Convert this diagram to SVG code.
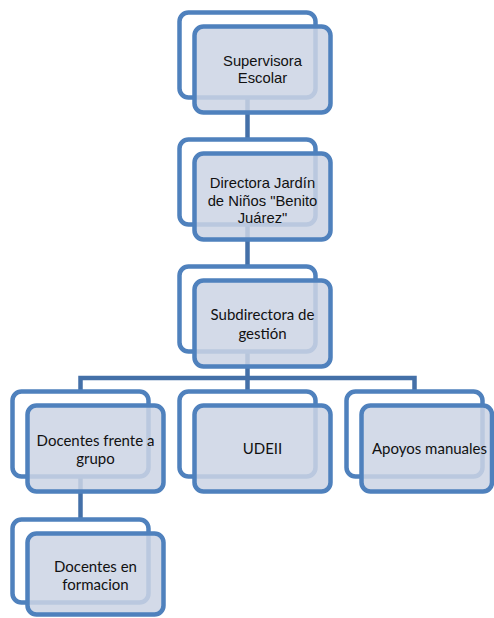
<svg xmlns="http://www.w3.org/2000/svg" width="494" height="618" viewBox="0 0 494 618">
<style>
.back{fill:none;stroke:#4F81BD;stroke-width:4.5}
.front{fill:rgb(204,212,228);fill-opacity:0.86;stroke:#4F81BD;stroke-width:4.5}
.conn{fill:none;stroke:#4470A8;stroke-width:4.5}
.ta{font-family:"Liberation Sans",Arial,sans-serif;font-size:14.8px;fill:#111;text-anchor:middle}
.tc{font-family:Lato,"Open Sans",sans-serif;font-size:15px;fill:#111;text-anchor:middle}
</style>
<rect width="494" height="618" fill="#fff"/>
<g id="connectors">
<path class="conn" d="M247.5 97.5V139.5"/>
<path class="conn" d="M247.5 224.5V266.5"/>
<path class="conn" d="M247.5 351.5V391.5M80.5 391.5V378H414.5V391.5"/>
<path class="conn" d="M80.5 476.5V519.5"/>
</g>
<g id="n1">
<rect class="back" x="179.5" y="12.5" width="136" height="85" rx="9"/>
<rect class="front" x="194.5" y="26.5" width="136" height="86" rx="9"/>
<text class="ta" x="262.5"><tspan x="262.5" y="66.3">Supervisora</tspan><tspan x="262.5" y="83.3">Escolar</tspan></text>
</g>
<g id="n2">
<rect class="back" x="179.5" y="139.5" width="136" height="85" rx="9"/>
<rect class="front" x="194.5" y="153.5" width="136" height="86" rx="9"/>
<text class="ta"><tspan x="262.5" y="188">Directora Jardín</tspan><tspan x="262.5" y="205.5">de Niños "Benito</tspan><tspan x="262.5" y="223">Juárez"</tspan></text>
</g>
<g id="n3">
<rect class="back" x="179.5" y="266.5" width="136" height="85" rx="9"/>
<rect class="front" x="194.5" y="280.5" width="136" height="86" rx="9"/>
<text class="tc"><tspan x="262.5" y="320">Subdirectora de</tspan><tspan x="262.5" y="338.5">gestión</tspan></text>
</g>
<g id="n4">
<rect class="back" x="12.5" y="391.5" width="136" height="85" rx="9"/>
<rect class="front" x="27.5" y="405.5" width="136" height="86" rx="9"/>
<text class="tc"><tspan x="95.5" y="445.5">Docentes frente a</tspan><tspan x="95.5" y="463.5">grupo</tspan></text>
</g>
<g id="n5">
<rect class="back" x="179.5" y="391.5" width="136" height="85" rx="9"/>
<rect class="front" x="194.5" y="405.5" width="136" height="86" rx="9"/>
<text class="tc" x="262.5" y="454">UDEII</text>
</g>
<g id="n6">
<rect class="back" x="346.5" y="391.5" width="136" height="85" rx="9"/>
<rect class="front" x="361.5" y="405.5" width="130.5" height="86" rx="9"/>
<text class="tc" x="429.5" y="454">Apoyos manuales</text>
</g>
<g id="n7">
<rect class="back" x="12.5" y="519.5" width="136" height="83" rx="9"/>
<rect class="front" x="27.5" y="533.5" width="136" height="81" rx="9"/>
<text class="tc"><tspan x="95.5" y="572.3">Docentes en</tspan><tspan x="95.5" y="590">formacion</tspan></text>
</g>
</svg>
